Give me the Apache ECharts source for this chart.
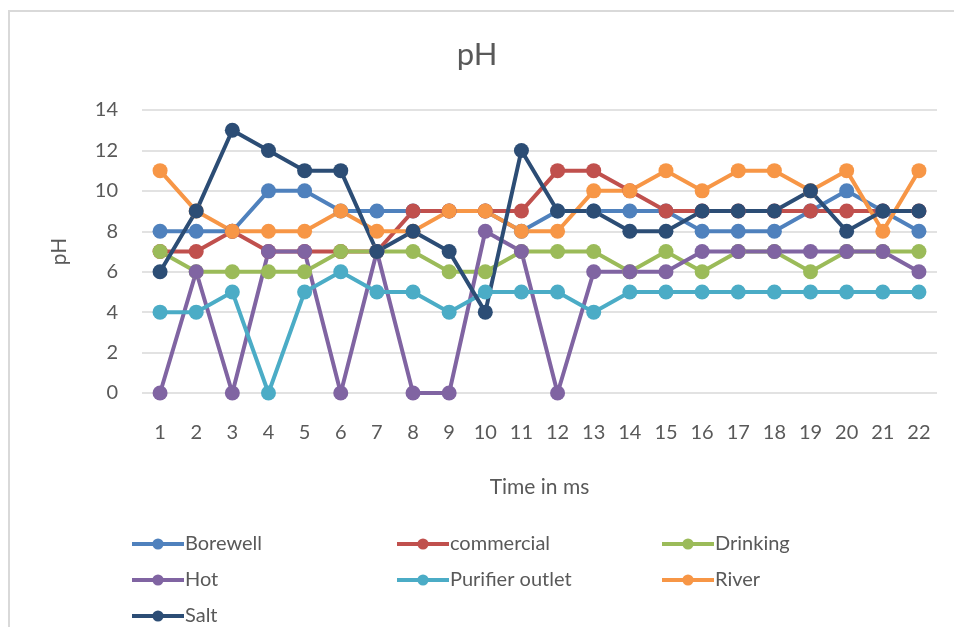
<!DOCTYPE html>
<html>
<head>
<meta charset="utf-8">
<script src="https://cdn.jsdelivr.net/npm/echarts@6/dist/echarts.min.js"></script>
<style>
  html, body { margin: 0; padding: 0; background: #fff; }
  #chart { width: 954px; height: 627px; }
</style>
</head>
<body>
<div id="chart"></div>
<script>
  // time steps on the x axis
  const times = ['1','2','3','4','5','6','7','8','9','10','11','12','13','14','15','16','17','18','19','20','21','22']

  // pH readings per sample
  const borewell   = [8, 8, 8, 10, 10, 9, 9, 9, 9, 9, 8, 9, 9, 9, 9, 8, 8, 8, 9, 10, 9, 8]
  const commercial = [7, 7, 8, 7, 7, 7, 7, 9, 9, 9, 9, 11, 11, 10, 9, 9, 9, 9, 9, 9, 9, 9]
  const drinking   = [7, 6, 6, 6, 6, 7, 7, 7, 6, 6, 7, 7, 7, 6, 7, 6, 7, 7, 6, 7, 7, 7]
  const hot        = [0, 6, 0, 7, 7, 0, 7, 0, 0, 8, 7, 0, 6, 6, 6, 7, 7, 7, 7, 7, 7, 6]
  const purifier   = [4, 4, 5, 0, 5, 6, 5, 5, 4, 5, 5, 5, 4, 5, 5, 5, 5, 5, 5, 5, 5, 5]
  const river      = [11, 9, 8, 8, 8, 9, 8, 8, 9, 9, 8, 8, 10, 10, 11, 10, 11, 11, 10, 11, 8, 11]
  const salt       = [6, 9, 13, 12, 11, 11, 7, 8, 7, 4, 12, 9, 9, 8, 8, 9, 9, 9, 10, 8, 9, 9]

  const seriesNames = ['Borewell', 'commercial', 'Drinking', 'Hot', 'Purifier outlet', 'River', 'Salt']
  const seriesData = [borewell, commercial, drinking, hot, purifier, river, salt]
  const colors = ['#4F81BD', '#C0504D', '#9BBB59', '#8064A2', '#4BACC6', '#F79646', '#2C4D75']

  const font = 'Lato, "Open Sans", sans-serif'
  const textColor = '#595959'

  let chart = echarts.init(document.getElementById('chart'))

  // one vertical legend per column so the columns line up like the original
  let legendBase = {
    orient: 'vertical',
    top: 533,
    height: 150,
    padding: 0,
    itemWidth: 52,
    itemHeight: 14,
    itemGap: 14,
    lineStyle: {width: 4},
    textStyle: {color: textColor, fontFamily: font, fontSize: 20, lineHeight: 22, padding: [0, 0, 0, -4]}
  }

  let option = {
    color: colors,
    animation: false,
    title: {
      text: 'pH',
      left: 'center',
      top: 34,
      textStyle: {color: textColor, fontFamily: font, fontSize: 31, fontWeight: 'normal'}
    },
    legend: [
      Object.assign({}, legendBase, {left: 130, data: ['Borewell', 'Hot', 'Salt']}),
      Object.assign({}, legendBase, {left: 395, data: ['commercial', 'Purifier outlet']}),
      Object.assign({}, legendBase, {left: 660, data: ['Drinking', 'River']})
    ],
    grid: {
      left: 142,
      right: 17,
      top: 110,
      bottom: 234
    },
    xAxis: {
      type: 'category',
      data: times,
      boundaryGap: true,
      name: 'Time in ms',
      nameLocation: 'middle',
      nameGap: 84,
      nameTextStyle: {color: textColor, fontFamily: font, fontSize: 21},
      axisLine: {show: false},
      axisTick: {show: false},
      axisLabel: {color: textColor, fontFamily: font, fontSize: 20, margin: 30}
    },
    yAxis: {
      type: 'value',
      min: 0,
      max: 14,
      interval: 2,
      name: 'pH',
      nameLocation: 'middle',
      nameGap: 72,
      nameTextStyle: {color: textColor, fontFamily: font, fontSize: 21},
      axisLabel: {color: textColor, fontFamily: font, fontSize: 20, margin: 24},
      splitLine: {lineStyle: {color: '#d9d9d9', width: 1.5}}
    },
    graphic: [{
      type: 'rect',
      shape: {x: 9, y: 11, width: 1000, height: 700},
      style: {fill: 'none', stroke: '#d9d9d9', lineWidth: 2},
      silent: true
    }],
    series: seriesNames.map((name, i) => ({
      name: name,
      type: 'line',
      data: seriesData[i],
      symbol: 'circle',
      symbolSize: 15,
      lineStyle: {width: 4},
      itemStyle: {color: colors[i]}
    }))
  }

  chart.setOption(option)
</script>
</body>
</html>
